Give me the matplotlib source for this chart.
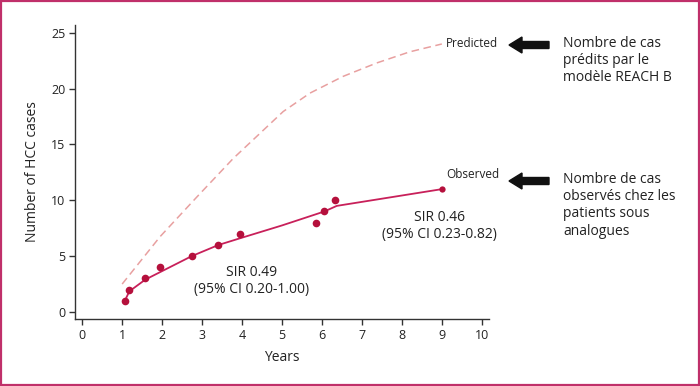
"""Observed vs predicted HCC cases (REACH B model)."""
import matplotlib
matplotlib.use("Agg")
import matplotlib.pyplot as plt
from matplotlib.patches import Rectangle, FancyArrow

plt.rcParams["font.family"] = ["Open Sans", "DejaVu Sans"]

# observed cases (dots)
obs_x = [1.08, 1.18, 1.58, 1.95, 2.74, 3.41, 3.95, 5.84, 6.06, 6.33, 9.0]
obs_y = [1, 2, 3, 4, 5, 6, 7, 8, 9, 10, 11]

# observed fitted curve
fit_x = [1.08, 1.18, 1.58, 2.74, 3.41, 3.95, 5.0, 6.06, 6.37, 9.0]
fit_y = [1.1, 1.85, 2.9, 5.0, 6.0, 6.6, 7.75, 9.0, 9.5, 11.0]

# predicted (REACH B) curve
pred_x = [1.0, 1.95, 2.87, 3.78, 4.45, 5.03, 5.7, 6.53, 7.37, 8.2, 9.0]
pred_y = [2.5, 6.75, 10.3, 13.75, 16.0, 17.95, 19.6, 21.1, 22.3, 23.3, 24.0]

xticks = list(range(0, 11))
yticks = [0, 5, 10, 15, 20, 25]

RED = "#b5103c"
LINE = "#c8205a"
DASH = "#e8a0a0"
AX = "#333333"

fig = plt.figure(figsize=(7, 3.86), dpi=100)
ax = fig.add_axes([75 / 700, 1 - 319 / 386, 414 / 700, 294 / 386])

ax.plot(pred_x, pred_y, ls=(0, (5, 3)), color=DASH, lw=1.1)
ax.plot(fit_x, fit_y, color=LINE, lw=1.3)
ax.plot(obs_x[:-1], obs_y[:-1], "o", color=RED, ms=5.5, mec="none")
ax.plot(obs_x[-1:], obs_y[-1:], "o", color=RED, ms=4.5, mec="none")

ax.set_xlim(-0.18, 10.18)
ax.set_ylim(-0.63, 25.7)
ax.set_xticks(xticks)
ax.set_yticks(yticks)
for s in ["top", "right"]:
    ax.spines[s].set_visible(False)
for s in ["left", "bottom"]:
    ax.spines[s].set_color(AX)
    ax.spines[s].set_linewidth(1.0)
ax.tick_params(direction="out", length=4, width=1, color=AX, labelsize=9,
               labelcolor="#222222", pad=3)
ax.set_xlabel("Years", fontsize=10, color="#222222", labelpad=6)
ax.set_ylabel("Number of HCC cases", fontsize=10, color="#222222", labelpad=8)

ax.text(9.1, 24.0, "Predicted", fontsize=8.5, color="#222222", va="center", ha="left")
ax.text(9.1, 12.3, "Observed", fontsize=8.5, color="#222222", va="center", ha="left")
ax.text(4.25, 2.8, "SIR 0.49\n(95% CI 0.20-1.00)", fontsize=10, color="#222222",
        ha="center", va="center", linespacing=1.15)
ax.text(8.95, 7.7, "SIR 0.46\n(95% CI 0.23-0.82)", fontsize=10, color="#222222",
        ha="center", va="center", linespacing=1.15)

# right-hand notes
fig.text(563 / 700, 1 - 36 / 386, "Nombre de cas\nprédits par le\nmodèle REACH B",
         fontsize=10, color="#222222", ha="left", va="top", linespacing=1.2)
fig.text(563 / 700, 1 - 172 / 386, "Nombre de cas\nobservés chez les\npatients sous\nanalogues",
         fontsize=10, color="#222222", ha="left", va="top", linespacing=1.2)

for ypix in [45, 181]:
    fig.patches.append(FancyArrow(5.49, (386 - ypix) / 100, -0.40, 0, width=0.07,
                                  head_width=0.16, head_length=0.13,
                                  length_includes_head=True, color="#111111",
                                  transform=fig.dpi_scale_trans))

fig.patches.append(Rectangle((0.001, 0.002), 0.997, 0.995, transform=fig.transFigure,
                             fill=False, edgecolor="#c0306a", lw=1.6))

fig.savefig("out.png", dpi=100)
